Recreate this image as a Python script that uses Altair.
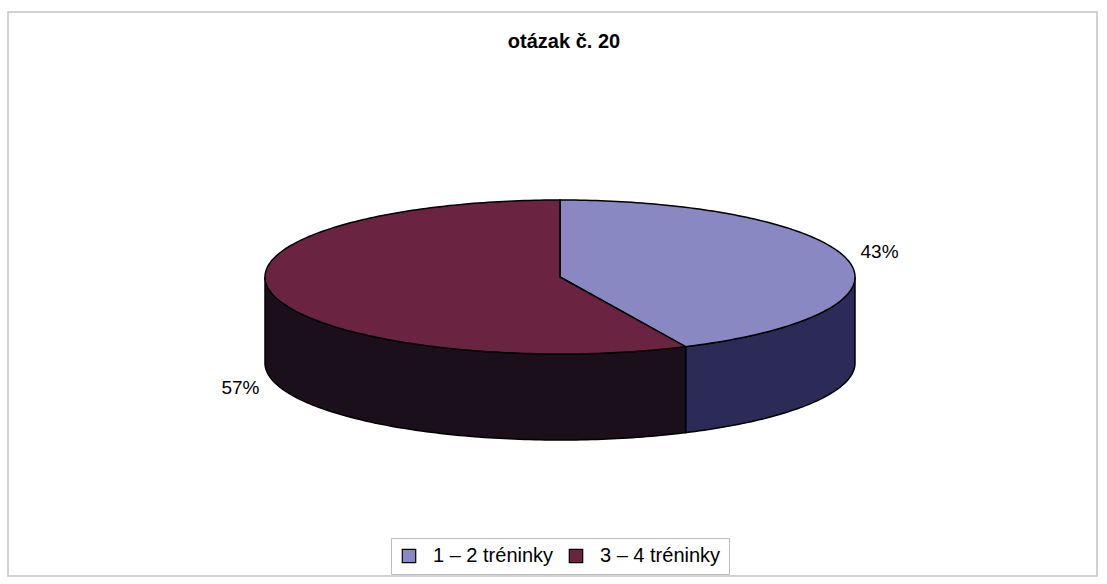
import math
import altair as alt
import pandas as pd

# ---- data ----
title_text = "otázak č. 20"
categories = ["1 – 2 tréninky", "3 – 4 tréninky"]
shares = [43, 57]
pct_labels = ["43%", "57%"]

# ---- style ----
top_colors = ["#8a88c2", "#6a2340"]
side_colors = ["#2c2b58", "#1b0f1c"]
side_names = ["side 1", "side 2"]
FONT = "Liberation Sans"

# ---- layout of the tilted pie (pixels) ----
CX, CY, RX, RY, DEPTH = 560, 277, 295, 77, 86
PAD_L, PAD_T = 8, 12
W, H = 1089, 564


def pt(t, dy=0.0):
    return [CX + RX * math.sin(t), CY - RY * math.cos(t) + dy]


def arc(t0, t1, dy=0.0):
    n = max(2, int(abs(math.degrees(t1 - t0))) + 1)
    return [pt(t0 + (t1 - t0) * i / (n - 1), dy) for i in range(n)]


total = float(sum(shares))
bounds = []
acc = 0.0
for s in shares:
    t0 = 2 * math.pi * acc / total
    acc += s
    t1 = 2 * math.pi * acc / total
    bounds.append((t0, t1))

side_features = []
top_features = []
label_rows = []
for i, (t0, t1) in enumerate(bounds):
    # visible front side (between 90° and 270°)
    a, b = max(t0, math.pi / 2), min(t1, 3 * math.pi / 2)
    if b > a:
        ring = arc(a, b) + arc(b, a, DEPTH)
        ring.append(ring[0])
        side_features.append({"type": "Feature", "properties": {"part": side_names[i]},
                              "geometry": {"type": "Polygon", "coordinates": [ring]}})
    ring = [[CX, CY]] + arc(t0, t1) + [[CX, CY]]
    top_features.append({"type": "Feature", "properties": {"part": categories[i]},
                         "geometry": {"type": "Polygon", "coordinates": [ring]}})
    mid = (t0 + t1) / 2
    lx = CX + 1.11 * RX * math.sin(mid)
    ly = CY - 1.5 * RY * math.cos(mid) + (DEPTH if math.cos(mid) < 0 else 0)
    label_rows.append({"lon": lx, "lat": ly, "text": pct_labels[i]})

features = side_features + top_features

frame = alt.Chart(pd.DataFrame([{"k": 1}])).mark_rect(
    fill=None, stroke="#c4c4c4", strokeWidth=1.5
).encode(x=alt.value(0), x2=alt.value(W), y=alt.value(0), y2=alt.value(H))

shapes = alt.Chart(alt.Data(values=features)).mark_geoshape(
    stroke="black", strokeWidth=1.5
).encode(
    fill=alt.Fill(
        "properties.part:N",
        scale=alt.Scale(domain=categories + side_names, range=top_colors + side_colors),
        legend=alt.Legend(
            values=categories, title=None, orient="none", direction="horizontal",
            legendX=383, legendY=526, symbolType="square", symbolSize=180,
            symbolStrokeColor="black", symbolStrokeWidth=1.2, symbolOpacity=1,
            labelFont=FONT, labelFontSize=20, labelColor="black", labelOffset=14,
            columnPadding=12, padding=8, strokeColor="#bdbdbd", fillColor="white",
            labelLimit=300,
        ),
    )
)

labels = alt.Chart(pd.DataFrame(label_rows)).mark_text(
    font=FONT, fontSize=19, color="black", baseline="middle", align="center"
).encode(longitude="lon:Q", latitude="lat:Q", text="text:N")

title = alt.Chart(pd.DataFrame([{"lon": 564, "lat": 48, "text": title_text}])).mark_text(
    font=FONT, fontSize=20, fontWeight="bold", color="black", baseline="alphabetic", align="center"
).encode(longitude="lon:Q", latitude="lat:Q", text="text:N")

chart = alt.layer(frame, shapes, labels, title).properties(
    width=W, height=H, autosize="none",
    padding={"left": PAD_L, "top": PAD_T, "right": 1107 - W - PAD_L, "bottom": 584 - H - PAD_T},
    background="white",
).project(
    type="identity", scale=1, translate=[-PAD_L, -PAD_T]
).configure_view(stroke=None)

chart.save("out.html", embed_options={"renderer": "svg", "actions": False})
